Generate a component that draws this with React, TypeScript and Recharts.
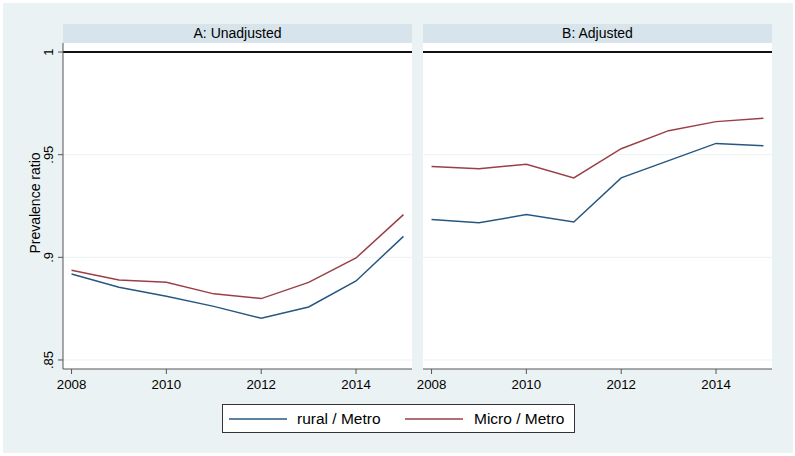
import { LineChart, Line, XAxis, YAxis, ReferenceLine } from "recharts";

const years = [2008, 2009, 2010, 2011, 2012, 2013, 2014, 2015];
const ruralUnadjusted = [0.8919, 0.8854, 0.881, 0.8761, 0.8703, 0.8758, 0.8885, 0.9102];
const microUnadjusted = [0.8937, 0.889, 0.8878, 0.8822, 0.8799, 0.8878, 0.8997, 0.9208];
const ruralAdjusted = [0.9184, 0.9169, 0.9208, 0.9172, 0.9387, 0.9471, 0.9555, 0.9544];
const microAdjusted = [0.9443, 0.9432, 0.9453, 0.9387, 0.9529, 0.9617, 0.9661, 0.9677];

const yTicks = [0.85, 0.9, 0.95, 1];
const xTicks = [2008, 2010, 2012, 2014];
const panelTitles = ["A: Unadjusted", "B: Adjusted"];
const seriesNames = ["rural / Metro", "Micro / Metro"];
const seriesColors = ["#275781", "#9b3f47"];

const FONT = '"Liberation Sans", Arial, sans-serif';
const BG = "#eaf2f3";
const AXIS = "#555";

const toRows = (rural: number[], micro: number[]) =>
  years.map((year, i) => ({ year, rural: rural[i], micro: micro[i] }));

const fmtY = (v: number) => (v === 1 ? "1" : String(v).replace(/^0/, ""));

function YTick({ x, y, payload }: any) {
  return (
    <text
      x={x}
      y={y}
      transform={`rotate(-90 ${x} ${y})`}
      textAnchor="middle"
      fontSize={13}
      fontFamily={FONT}
      fill="#000"
    >
      {fmtY(payload.value)}
    </text>
  );
}

interface PanelProps {
  rows: { year: number; rural: number; micro: number }[];
  left: number;
  width: number;
  margin: { top: number; right: number; bottom: number; left: number };
  showY: boolean;
}

function Panel({ rows, left, width, margin, showY }: PanelProps) {
  return (
    <div style={{ position: "absolute", left, top: 0 }}>
      <LineChart width={width} height={400} data={rows} margin={margin}>
        <XAxis
          dataKey="year"
          type="number"
          domain={[2007.82, 2015.18]}
          ticks={xTicks}
          allowDataOverflow
          height={30}
          tickSize={5}
          tickMargin={6}
          axisLine={{ stroke: AXIS }}
          tickLine={{ stroke: AXIS }}
          tick={{ fontSize: 13.3, fill: "#000", fontFamily: FONT }}
        />
        <YAxis
          type="number"
          domain={[0.8456, 1.0044]}
          ticks={yTicks}
          allowDataOverflow
          hide={!showY}
          width={30}
          tickSize={5}
          tickMargin={5}
          axisLine={{ stroke: AXIS }}
          tickLine={{ stroke: AXIS }}
          tick={<YTick />}
        />
        {yTicks.slice(0, 3).map((t) => (
          <ReferenceLine key={t} y={t} stroke={BG} strokeWidth={1} />
        ))}
        <ReferenceLine y={1} stroke="#111" strokeWidth={2} />
        <Line
          dataKey="rural"
          stroke={seriesColors[0]}
          strokeWidth={1.5}
          dot={false}
          isAnimationActive={false}
        />
        <Line
          dataKey="micro"
          stroke={seriesColors[1]}
          strokeWidth={1.5}
          dot={false}
          isAnimationActive={false}
        />
      </LineChart>
    </div>
  );
}

const stripStyle = (left: number): React.CSSProperties => ({
  position: "absolute",
  left,
  top: 21,
  width: 349,
  height: 19,
  lineHeight: "19px",
  background: "#d7e4eb",
  textAlign: "center",
  fontSize: 14,
  fontFamily: FONT,
  color: "#000",
});

const legendLine = [6, 182];
const legendText = [74, 251];

export default function App() {
  return (
    <div
      style={{
        position: "absolute",
        left: 3,
        top: 3,
        width: 790,
        height: 450,
        background: BG,
        fontFamily: FONT,
      }}
    >
      <div style={{ position: "absolute", left: 60, top: 40, width: 349, height: 326, background: "#fff" }} />
      <div style={{ position: "absolute", left: 420, top: 40, width: 349, height: 326, background: "#fff" }} />
      <div style={stripStyle(60)}>{panelTitles[0]}</div>
      <div style={stripStyle(420)}>{panelTitles[1]}</div>
      <Panel
        rows={toRows(ruralUnadjusted, microUnadjusted)}
        left={0}
        width={409}
        margin={{ top: 40, right: 0, bottom: 4, left: 30 }}
        showY
      />
      <Panel
        rows={toRows(ruralAdjusted, microAdjusted)}
        left={409}
        width={370}
        margin={{ top: 40, right: 10, bottom: 4, left: 11 }}
        showY={false}
      />
      <div
        style={{
          position: "absolute",
          left: -68.5,
          top: 190,
          width: 200,
          height: 20,
          lineHeight: "20px",
          textAlign: "center",
          fontSize: 14,
          transform: "rotate(-90deg)",
          color: "#000",
        }}
      >
        Prevalence ratio
      </div>
      <div
        style={{
          position: "absolute",
          left: 219,
          top: 401,
          width: 353,
          height: 29,
          boxSizing: "border-box",
          border: "1px solid #333",
          background: "#fff",
        }}
      >
        {seriesNames.map((name, i) => (
          <div key={name}>
            <svg
              width={58}
              height={4}
              style={{ position: "absolute", left: legendLine[i], top: 11.5 }}
            >
              <line x1={0} y1={2} x2={58} y2={2} stroke={seriesColors[i]} strokeWidth={1.5} />
            </svg>
            <div
              style={{
                position: "absolute",
                left: legendText[i],
                top: 0,
                height: 27,
                lineHeight: "27px",
                fontSize: 15.5,
                color: "#000",
                whiteSpace: "nowrap",
              }}
            >
              {name}
            </div>
          </div>
        ))}
      </div>
    </div>
  );
}
